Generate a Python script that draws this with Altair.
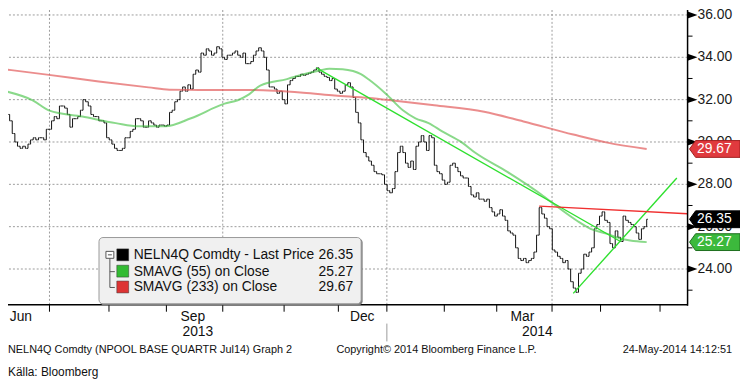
import altair as alt
import pandas as pd

FONT = "Liberation Sans, Arial, sans-serif"

# ---- daily closes (trading-day index 0 = early Jun 2013, last = 23 May 2014)
close = [
    31.3, 31.0, 30.4, 30.0, 29.8, 29.7, 29.8, 29.7, 29.9, 30.1,
    30.2, 30.1, 30.2, 30.2, 30.1, 30.6, 30.6, 31.0, 31.2, 31.1,
    31.7, 31.7, 31.6, 31.3, 30.7, 31.1, 31.1, 31.2, 31.5, 32.0,
    31.9, 31.7, 31.3, 31.2, 31.2, 31.0, 31.0, 30.9, 30.2, 30.1,
    29.9, 29.7, 29.6, 29.6, 29.7, 30.2, 30.2, 30.5, 30.6, 31.1,
    31.1, 31.0, 30.7, 30.7, 31.0, 30.9, 30.8, 30.7, 30.8, 30.8,
    30.75, 30.8, 31.4, 31.5, 31.9, 32.0, 32.4, 32.6, 32.4, 32.7,
    32.5, 33.2, 33.4, 33.3, 34.2, 34.1, 34.4, 34.3, 34.1, 34.2,
    34.5, 34.4, 34.0, 33.9, 34.1, 34.1, 34.2, 34.3, 34.1, 34.0,
    34.2, 33.7, 33.7, 33.8, 34.1, 34.3, 34.45, 34.3, 34.0, 33.4,
    32.6, 32.6, 32.5, 32.3, 32.4, 32.0, 31.8, 32.7, 32.9, 33.0,
    33.1, 33.1, 33.2, 33.15, 33.2, 33.25, 33.3, 33.4, 33.5, 33.3,
    33.2, 33.1, 33.05, 32.9, 33.0, 32.5, 32.4, 32.3, 32.4, 32.7,
    32.8, 32.6, 32.1, 31.4, 30.9, 30.1, 29.5, 29.3, 29.1, 28.9,
    28.6, 28.5, 28.5, 28.45, 28.0, 27.7, 27.6, 27.8, 28.6, 29.5,
    29.8, 29.5, 29.0, 28.8, 29.1, 28.7, 29.8, 30.0, 30.3, 30.0,
    29.6, 30.3, 30.2, 28.9, 28.6, 28.5, 28.2, 28.0, 28.1, 28.9,
    29.0, 28.8, 28.6, 28.4, 28.3, 28.3, 27.9, 27.5, 27.4, 27.6,
    27.3, 27.3, 27.2, 27.3, 26.9, 26.7, 26.5, 26.6, 26.8, 26.5,
    26.3, 25.8, 25.7, 25.6, 25.0, 24.5, 24.4, 24.5, 24.3, 24.4,
    24.5, 24.8, 25.6, 26.9, 26.6, 26.4, 26.0, 25.9, 24.9, 24.8,
    24.6, 24.5, 24.3, 24.4, 24.0, 23.4, 23.1, 22.9, 23.8, 24.0,
    24.7, 24.6, 24.8, 25.0, 25.9, 26.1, 26.5, 26.7, 26.3, 26.2,
    25.2, 25.0, 25.8, 25.5, 25.3, 26.5, 26.3, 26.2, 26.1, 26.0,
    25.7, 25.4, 25.9, 26.0, 26.35,
]

# ---- moving averages (trading-day index, value)
sma55_i = [0, 9.8, 16.2, 28.7, 41.5, 50.2, 60.4, 70.2, 83, 88, 91.7, 96.6, 106.8, 113.2,
           119.2, 123, 128, 132, 135, 138, 144.5, 151, 155.8, 160.8, 166, 173.6, 178.5,
           191, 203.8, 209.8, 217.4, 222.6, 228.7, 234, 237.7, 244]
sma55_v = [32.38, 31.97, 31.48, 31.2, 30.89, 30.74, 30.74, 31.12, 31.81, 31.97, 32.2, 32.66,
           32.97, 33.2, 33.38, 33.46, 33.44, 33.35, 33.2, 32.95, 32.28, 31.5, 31.12, 30.89,
           30.5, 29.97, 29.5, 28.58, 27.52, 26.95, 26.28, 25.9, 25.67, 25.44, 25.35, 25.27]
sma233_i = [0, 16, 35, 54, 62, 73, 92, 102, 113, 125, 138, 148, 163, 182, 197, 216, 229, 244]
sma233_v = [33.42, 33.17, 32.86, 32.58, 32.47, 32.46, 32.46, 32.42, 32.33, 32.2, 32.08,
            31.95, 31.74, 31.43, 30.97, 30.35, 29.97, 29.67]

# ---- hand-drawn trend lines
trend_g1_i, trend_g1_v = [118, 234], [33.5, 25.3]
trend_g2_i, trend_g2_v = [216, 255.5], [22.85, 28.3]
trend_r_i, trend_r_v = [203, 259.6], [26.97, 26.61]

# ---- axes
y_major = [24, 26, 28, 30, 32, 34, 36]
y_minor = [23, 25, 27, 29, 31, 33, 35]
month_ticks = [16.2, 38.9, 60.8, 82.3, 105.7, 126.4, 144.9, 166.8, 186.8, 207.9, 226.4, 249.1]
quarter_grid = [16.2, 82.3, 144.9, 207.9]
month_label_pos = [5.3, 70.9, 135.5, 196.6]
month_labels = ["Jun", "Sep", "Dec", "Mar"]
year_label_pos = [72.8, 202.3]
year_labels = ["2013", "2014"]
year_sep = [144.9]

# ---- legend / badges
legend_labels = ["NELN4Q Comdty - Last Price", "SMAVG (55) on Close", "SMAVG (233) on Close"]
legend_values = [26.35, 25.27, 29.67]
legend_colors = ["#000000", "#33bb33", "#dd3333"]
badge_fill = ["#000000", "#3cb93c", "#e03a3e"]
badge_stroke = ["#000000", "#1e6e1e", "#a01e1e"]

footer_left = "NELN4Q Comdty (NPOOL BASE QUARTR Jul14) Graph 2"
footer_mid = "Copyright\u00a9 2014 Bloomberg Finance L.P."
footer_right = "24-May-2014 14:12:51"
source_text = "K\u00e4lla: Bloomberg"

W, H = 687, 298
xs = alt.Scale(domain=[0.38, 259.6], nice=False, zero=False)
ys = alt.Scale(domain=[22.31, 36.234], nice=False, zero=False)

n = len(close)
opens = [close[0]] + close[:-1]
bars = pd.DataFrame({"i": list(range(n)), "o": opens, "c": close})
bars["lo"] = bars[["o", "c"]].min(axis=1)
bars["hi"] = bars[["o", "c"]].max(axis=1)
bars["il"] = bars["i"] - 0.45
bars["ir"] = bars["i"] + 0.45

one = pd.DataFrame({"a": [0]})


def X(f):
    return alt.X(f, scale=xs, axis=None)


def Y(f):
    return alt.Y(f, scale=ys, axis=None)


layers = []

# grids
layers.append(alt.Chart(pd.DataFrame({"q": quarter_grid})).mark_rule(
    color="#9c9c9c", strokeDash=[2, 2], strokeWidth=1).encode(x=X("q:Q")))
layers.append(alt.Chart(pd.DataFrame({"v": y_major})).mark_rule(
    color="#9c9c9c", strokeDash=[2, 2], strokeWidth=1).encode(y=Y("v:Q")))

# price bars
layers.append(alt.Chart(bars).mark_rule(color="#111111", strokeWidth=1, clip=True).encode(
    x=X("i:Q"), y=Y("lo:Q"), y2="hi:Q"))
layers.append(alt.Chart(bars).mark_rule(color="#111111", strokeWidth=1, clip=True).encode(
    x=X("il:Q"), x2="i:Q", y=Y("o:Q")))
layers.append(alt.Chart(bars).mark_rule(color="#111111", strokeWidth=1, clip=True).encode(
    x=X("i:Q"), x2="ir:Q", y=Y("c:Q")))

# moving averages
layers.append(alt.Chart(pd.DataFrame({"i": sma233_i, "v": sma233_v})).mark_line(
    color="#e25c5c", strokeWidth=2, opacity=0.7, clip=True, interpolate="monotone").encode(
    x=X("i:Q"), y=Y("v:Q")))
layers.append(alt.Chart(pd.DataFrame({"i": sma55_i, "v": sma55_v})).mark_line(
    color="#3cbf3c", strokeWidth=2, opacity=0.6, clip=True, interpolate="monotone").encode(
    x=X("i:Q"), y=Y("v:Q")))

# trend lines
for ti, tv, col in [(trend_g1_i, trend_g1_v, "#2ee02e"), (trend_g2_i, trend_g2_v, "#2ee02e"),
                    (trend_r_i, trend_r_v, "#f03030")]:
    layers.append(alt.Chart(pd.DataFrame({"i": ti, "v": tv})).mark_line(
        color=col, strokeWidth=1.4, clip=True).encode(x=X("i:Q"), y=Y("v:Q")))

# axis lines and ticks
layers.append(alt.Chart(one).mark_rule(color="#000000", strokeWidth=1.5).encode(
    x=alt.value(W), y=alt.value(0), y2=alt.value(H + 1)))
layers.append(alt.Chart(one).mark_rule(color="#000000", strokeWidth=1.5).encode(
    x=alt.value(0), x2=alt.value(W), y=alt.value(H)))
layers.append(alt.Chart(pd.DataFrame({"m": month_ticks})).mark_rule(color="#000000", strokeWidth=1).encode(
    x=X("m:Q"), y=alt.value(H), y2=alt.value(H + 7)))
layers.append(alt.Chart(pd.DataFrame({"v": y_major})).mark_point(
    shape="M-1,-0.7L1,0L-1,0.7Z", size=100, filled=True, color="#000000", opacity=1).encode(
    x=alt.value(W + 5), y=Y("v:Q")))
layers.append(alt.Chart(pd.DataFrame({"v": y_minor})).mark_rule(color="#000000", strokeWidth=1).encode(
    x=alt.value(W), x2=alt.value(W + 5), y=Y("v:Q")))

# right axis labels
ylab = pd.DataFrame({"v": y_major, "t": [f"{v:.2f}" for v in y_major]})
layers.append(alt.Chart(ylab).mark_text(font=FONT, fontSize=14, color="#1a1a1a", align="left",
                                        baseline="middle").encode(
    x=alt.value(W + 10), y=Y("v:Q"), text="t:N"))

# value badges
bdf = pd.DataFrame({"v": legend_values, "f": badge_fill, "s": badge_stroke,
                    "t": [f"{v:.2f}" for v in legend_values]})
layers.append(alt.Chart(bdf).mark_point(
    shape="M-1,0L-0.76,-0.333L1,-0.333L1,0.333L-0.76,0.333Z", size=2601, filled=True,
    opacity=1, strokeWidth=1).encode(
    x=alt.value(W + 27.5), y=Y("v:Q"),
    fill=alt.Fill("f:N", scale=None), stroke=alt.Stroke("s:N", scale=None)))
layers.append(alt.Chart(bdf).mark_text(font=FONT, fontSize=14, color="#ffffff", align="center",
                                       baseline="middle").encode(
    x=alt.value(W + 27), y=Y("v:Q"), text="t:N"))

# month / year labels
layers.append(alt.Chart(pd.DataFrame({"p": month_label_pos, "t": month_labels})).mark_text(
    font=FONT, fontSize=14, color="#111111", baseline="middle").encode(
    x=X("p:Q"), y=alt.value(H + 12), text="t:N"))
layers.append(alt.Chart(pd.DataFrame({"p": year_label_pos, "t": year_labels})).mark_text(
    font=FONT, fontSize=14, color="#111111", baseline="middle").encode(
    x=X("p:Q"), y=alt.value(H + 28), text="t:N"))
layers.append(alt.Chart(pd.DataFrame({"p": year_sep})).mark_rule(color="#9a9a9a", strokeWidth=1).encode(
    x=X("p:Q"), y=alt.value(H + 19), y2=alt.value(H + 37)))

# legend box
LX0, LX1, LY0, LY1 = 92, 357, 230, 297
layers.append(alt.Chart(one).mark_rect(fill="#7a7a7a", cornerRadius=4).encode(
    x=alt.value(LX0 + 1), x2=alt.value(LX1 + 1.5), y=alt.value(LY0 + 1), y2=alt.value(LY1 + 1.5)))
layers.append(alt.Chart(one).mark_rect(fill="#f0f0f0", stroke="#9a9a9a", strokeWidth=1, cornerRadius=4).encode(
    x=alt.value(LX0), x2=alt.value(LX1), y=alt.value(LY0), y2=alt.value(LY1)))
rows_y = [248, 264.5, 280.5]
layers.append(alt.Chart(one).mark_rect(fill="#ffffff", stroke="#555555", strokeWidth=1).encode(
    x=alt.value(99), x2=alt.value(107), y=alt.value(244), y2=alt.value(251)))
for (x0, x1, y0, y1) in [(101, 105, 247.5, 247.5), (103, 103, 251, rows_y[2]),
                         (103, 108, rows_y[1], rows_y[1]), (103, 108, rows_y[2], rows_y[2])]:
    layers.append(alt.Chart(one).mark_rule(color="#555555", strokeWidth=1).encode(
        x=alt.value(x0), x2=alt.value(x1), y=alt.value(y0), y2=alt.value(y1)))
for r in range(3):
    yr = rows_y[r]
    layers.append(alt.Chart(one).mark_rect(fill=legend_colors[r], stroke="#333333", strokeWidth=0.5).encode(
        x=alt.value(110), x2=alt.value(122), y=alt.value(yr - 6.5), y2=alt.value(yr + 5.5)))
    layers.append(alt.Chart(one).mark_text(text=legend_labels[r], font=FONT, fontSize=14, color="#111111",
                                           align="left", baseline="middle").encode(
        x=alt.value(127), y=alt.value(yr)))
    layers.append(alt.Chart(one).mark_text(text=f"{legend_values[r]:.2f}", font=FONT, fontSize=14,
                                           color="#111111", align="right", baseline="middle").encode(
        x=alt.value(349), y=alt.value(yr)))

# footer
for txt, xv, al, yv, fs in [(footer_left, 0, "left", H + 46, 11), (footer_mid, 332, "left", H + 46, 11),
                            (footer_right, 732, "right", H + 46, 11), (source_text, 0, "left", H + 68, 12)]:
    layers.append(alt.Chart(one).mark_text(text=txt, font=FONT, fontSize=fs, color="#111111",
                                           align=al, baseline="middle").encode(
        x=alt.value(xv), y=alt.value(yv)))

chart = alt.layer(*layers).properties(
    width=W, height=H,
    padding={"left": 0, "top": 0, "right": 53, "bottom": 74},
    autosize=alt.AutoSizeParams(type="none"),
    background="#ffffff",
).configure_view(strokeWidth=0)

chart.save("out.html", embed_options={"renderer": "svg", "actions": False})
